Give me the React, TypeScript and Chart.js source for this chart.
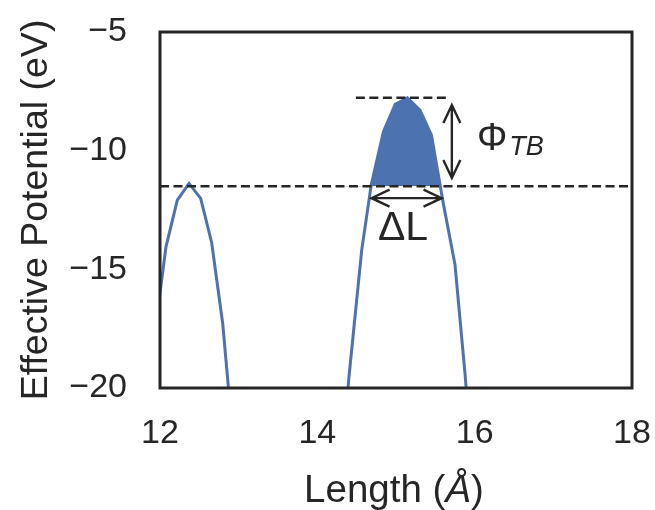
import React, { useEffect, useRef } from 'react';
import { Chart, registerables } from 'chart.js';

Chart.register(...registerables);

// ---- data ----
const leftBarrierX = [11.93, 12.076, 12.22, 12.369, 12.517, 12.657, 12.797, 12.94];
const leftBarrierY = [-17.8, -14.05, -12.08, -11.38, -12.01, -13.88, -17.28, -22.6];

const mainBarrierX = [14.25, 14.4, 14.564, 14.685, 14.84, 14.99, 15.144, 15.305, 15.45, 15.6, 15.75, 15.88, 16.03];
const mainBarrierY = [-26, -19.6, -14.19, -11.45, -9.2, -8.05, -7.77, -8.29, -9.34, -12.2, -14.8, -19.5, -26];

const fermiLevel = -11.5;
const fermiLineX = [12, 18];
const topLevel = -7.77;
const topLineX = [14.49, 15.69];

// arrows: [x1, y1, x2, y2] in data units
const phiArrow = [15.71, -8.08, 15.71, -11.15];
const dlArrow = [14.689, -12.0, 15.579, -12.0];

// labels (data anchor)
const dlLabelPos = [14.77, -13.77];
const phiLabelPos = [16.03, -9.97];

const xTicks = [12, 14, 16, 18];
const yTicks = [-20, -15, -10, -5];
const xTitleParts = ['Length (', '\u00C5', ')'];

const BLUE = '#4C72B0';
const INK = '#262626';
const FONT = "'Liberation Sans', Arial, Helvetica, sans-serif";

function toPts(xs: number[], ys: number[]) {
  return xs.map((x, i) => ({ x, y: ys[i] }));
}

function drawDoubleArrow(ctx: CanvasRenderingContext2D, x1: number, y1: number, x2: number, y2: number) {
  const ang = Math.atan2(y2 - y1, x2 - x1);
  const hl = 18;
  const hw = 8.5;
  ctx.beginPath();
  ctx.moveTo(x1, y1);
  ctx.lineTo(x2, y2);
  const head = (tx: number, ty: number, a: number) => {
    const ca = Math.cos(a), sa = Math.sin(a);
    ctx.moveTo(tx + hl * ca - hw * sa, ty + hl * sa + hw * ca);
    ctx.lineTo(tx, ty);
    ctx.lineTo(tx + hl * ca + hw * sa, ty + hl * sa - hw * ca);
  };
  head(x1, y1, ang);
  head(x2, y2, ang + Math.PI);
  ctx.stroke();
}

const decorPlugin = {
  id: 'decor',
  afterDatasetsDraw(chart: any) {
    const { ctx, chartArea, scales } = chart;
    const xs = scales.x, ys = scales.y;
    ctx.save();
    // frame
    ctx.strokeStyle = INK;
    ctx.lineWidth = 3;
    ctx.strokeRect(chartArea.left, chartArea.top, chartArea.right - chartArea.left, chartArea.bottom - chartArea.top);
    // arrows
    ctx.lineWidth = 2.4;
    ctx.lineCap = 'butt';
    ctx.lineJoin = 'miter';
    const px = (v: number) => xs.getPixelForValue(v);
    const py = (v: number) => ys.getPixelForValue(v);
    drawDoubleArrow(ctx, px(phiArrow[0]), py(phiArrow[1]), px(phiArrow[2]), py(phiArrow[3]));
    drawDoubleArrow(ctx, px(dlArrow[0]), py(dlArrow[1]), px(dlArrow[2]), py(dlArrow[3]));
    // labels
    ctx.fillStyle = INK;
    ctx.textAlign = 'left';
    ctx.textBaseline = 'alphabetic';
    ctx.font = `41px ${FONT}`;
    ctx.fillText('\u0394L', px(dlLabelPos[0]), py(dlLabelPos[1]));
    ctx.font = `38px ${FONT}`;
    const phiX = px(phiLabelPos[0]);
    const phiY = py(phiLabelPos[1]);
    ctx.fillText('\u03A6', phiX, phiY);
    const w = ctx.measureText('\u03A6').width;
    ctx.font = `italic 27px ${FONT}`;
    ctx.fillText('TB', phiX + w + 2, phiY + 5);
    // x-axis title with italic Å
    const fonts = [`38.5px ${FONT}`, `italic 38.5px ${FONT}`, `38.5px ${FONT}`];
    const widths = xTitleParts.map((t, i) => { ctx.font = fonts[i]; return ctx.measureText(t).width; });
    const total = widths.reduce((a, b) => a + b, 0);
    let cx = (chartArea.left + chartArea.right) / 2 - total / 2 - 2;
    const baseY = chartArea.bottom + 114;
    xTitleParts.forEach((t, i) => {
      ctx.font = fonts[i];
      ctx.fillText(t, cx, baseY);
      cx += widths[i];
    });
    ctx.restore();
  },
};

export default function App() {
  const ref = useRef<HTMLCanvasElement | null>(null);
  useEffect(() => {
    if (!ref.current) return;
    const chart = new Chart(ref.current, {
      type: 'line',
      data: {
        datasets: [
          {
            data: toPts(fermiLineX, [fermiLevel, fermiLevel]),
            borderColor: INK,
            borderWidth: 2.5,
            borderDash: [9, 4.5],
            pointRadius: 0,
            fill: false,
            order: 0,
          },
          {
            data: toPts(topLineX, [topLevel, topLevel]),
            borderColor: INK,
            borderWidth: 2.5,
            borderDash: [9, 4.5],
            pointRadius: 0,
            fill: false,
            order: 0,
          },
          {
            data: toPts(leftBarrierX, leftBarrierY),
            borderColor: BLUE,
            borderWidth: 3,
            pointRadius: 0,
            fill: false,
            order: 1,
          },
          {
            data: toPts(mainBarrierX, mainBarrierY),
            borderColor: BLUE,
            borderWidth: 3,
            pointRadius: 0,
            fill: { target: { value: fermiLevel }, above: BLUE, below: 'rgba(0,0,0,0)' },
            order: 1,
          },
        ] as any,
      },
      options: {
        animation: false,
        responsive: false,
        maintainAspectRatio: false,
        layout: { padding: { left: 0, right: 23, top: 32, bottom: 0 } },
        plugins: { legend: { display: false }, tooltip: { enabled: false } },
        elements: { line: { tension: 0 } },
        scales: {
          x: {
            type: 'linear',
            min: 12,
            max: 18,
            grid: { display: false, drawTicks: false },
            border: { display: false },
            afterBuildTicks: (s: any) => { s.ticks = xTicks.map((v) => ({ value: v })); },
            ticks: {
              color: INK,
              font: { family: FONT, size: 34 },
              padding: 25,
              maxRotation: 0,
              autoSkip: false,
            },
            title: { display: false },
            afterFit: (s: any) => { s.height = 122; s.paddingLeft = 0; s.paddingRight = 0; },
          },
          y: {
            type: 'linear',
            min: -20,
            max: -5,
            grid: { display: false, drawTicks: false },
            border: { display: false },
            afterBuildTicks: (s: any) => { s.ticks = yTicks.map((v) => ({ value: v })); },
            ticks: {
              color: INK,
              font: { family: FONT, size: 34 },
              padding: 33,
              autoSkip: false,
              callback: (v: any) => (Number(v) < 0 ? '\u2212' + Math.abs(Number(v)) : String(v)),
            },
            title: {
              display: true,
              text: 'Effective Potential (eV)',
              color: INK,
              font: { family: FONT, size: 37.5 },
              padding: { top: 14, bottom: 0 },
            },
            afterFit: (s: any) => { s.width = 160; s.paddingTop = 0; s.paddingBottom = 0; },
          },
        },
      },
      plugins: [decorPlugin],
    } as any);
    return () => chart.destroy();
  }, []);
  return (
    <div style={{ position: 'absolute', left: 0, top: 0, width: 655, height: 510, background: '#fff' }}>
      <canvas ref={ref} width={655} height={510} style={{ width: 655, height: 510, display: 'block' }} />
    </div>
  );
}
